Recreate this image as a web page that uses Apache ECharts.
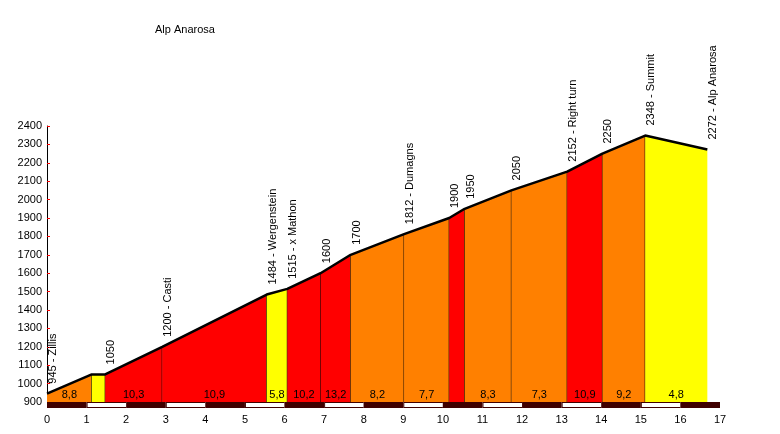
<!DOCTYPE html>
<html lang="en">
<head>
	<meta charset="UTF-8">
	<title>Alp Anarosa</title>
	<script src="https://cdn.jsdelivr.net/npm/echarts@6/dist/echarts.min.js"></script>
</head>
<body style="margin:0">
	<div id="app" style="width: 780px;height:434px"></div>

	<script>
		// profile points (km, altitude) and names
		var kmPoints = [0, 1.13, 1.47, 2.91, 5.55, 6.07, 6.91, 7.67, 9.02, 10.16, 10.55, 11.73, 13.14, 14.03, 15.11, 16.68];
		var altitudes = [945, 1050, 1050, 1200, 1484, 1515, 1600, 1700, 1812, 1900, 1950, 2050, 2152, 2250, 2348, 2272];
		// null = no label at this point, '' = altitude only
		var pointNames = ['Zillis', null, '', 'Casti', 'Wergenstein', 'x Mathon', '', '', 'Dumagns', '', '', '', 'Right turn', '', 'Summit', 'Alp Anarosa'];
		// gradient of each segment in %
		var grades = [8.8, 0, 10.3, 10.9, 5.8, 10.2, 13.2, 8.2, 7.7, 12.8, 8.3, 7.3, 10.9, 9.2, 4.8];
		var yTicks = [900, 2400, 100];
		var xTicks = [0, 17, 1];

		var font = 'Arial, "Liberation Sans", sans-serif';

		function gradeColor(g){
			if (g < 6) return '#ffff00';
			if (g < 10) return '#ff8000';
			return '#ff0000';
		}

		var segData = [];
		for (var i = 0; i < kmPoints.length - 1; i++) {
			segData.push([kmPoints[i], altitudes[i], kmPoints[i+1], altitudes[i+1], grades[i], i]);
		}
		var lineData = kmPoints.map(function(k, i){ return [k, altitudes[i]]; });
		var labelData = [];
		kmPoints.forEach(function(k, i){
			if (pointNames[i] === null) return;
			labelData.push({value: [k, altitudes[i]], name: altitudes[i] + (pointNames[i] ? ' - ' + pointNames[i] : '')});
		});
		var kmBand = [];
		for (var k = xTicks[0]; k < xTicks[1]; k++) kmBand.push(k);

		var myChart = echarts.init(document.getElementById('app'));
		var option = {
			animation: false,
			backgroundColor: '#fff',
			title: {
				text: 'Alp Anarosa',
				left: 150, top: 19,
				textStyle: {fontFamily: font, fontSize: 11, fontWeight: 'normal', color: '#000'}
			},
			grid: {left: 47, right: 60, top: 126, bottom: 32},
			xAxis: {
				type: 'value', min: xTicks[0], max: xTicks[1], interval: xTicks[2],
				axisLine: {show: false}, axisTick: {show: false}, splitLine: {show: false},
				axisLabel: {margin: 12, color: '#000', fontFamily: font, fontSize: 11}
			},
			yAxis: {
				type: 'value', min: yTicks[0], max: yTicks[1], interval: yTicks[2],
				axisLine: {show: true, lineStyle: {color: '#000', width: 1}},
				axisTick: {show: true, inside: true, length: 3, lineStyle: {color: '#ff0000'}},
				splitLine: {show: false},
				axisLabel: {margin: 5, color: '#000', fontFamily: font, fontSize: 11,
					formatter: function(v){ return String(v); }}
			},
			series: [
			{
				// coloured segments with grade labels
				type: 'custom',
				data: segData,
				z: 1,
				renderItem: function(params, api){
					var a = api.coord([api.value(0), api.value(1)]);
					var b = api.coord([api.value(2), api.value(3)]);
					var base = api.coord([0, yTicks[0]])[1];
					var g = api.value(4);
					var idx = api.value(5);
					var children = [{
						type: 'polygon',
						shape: {points: [[a[0], base], a, b, [b[0], base]]},
						style: {fill: gradeColor(g)}
					}];
					if (idx < segData.length - 1) {
						children.push({
							type: 'line',
							shape: {x1: b[0], y1: b[1], x2: b[0], y2: base},
							style: {stroke: '#000', lineWidth: 1}
						});
					}
					if (g > 0 && b[0] - a[0] > 18) {
						children.push({
							type: 'text',
							x: (a[0] + b[0]) / 2, y: base - 7,
							style: {text: g.toFixed(1).replace('.', ','), textAlign: 'center', textVerticalAlign: 'middle',
								font: '11px ' + font, fill: '#000'}
						});
					}
					return {type: 'group', children: children};
				}
			},
			{
				// profile line
				type: 'line',
				data: lineData,
				symbol: 'none',
				z: 3,
				lineStyle: {color: '#000', width: 2.5}
			},
			{
				// vertical point labels
				type: 'custom',
				data: labelData,
				z: 4,
				renderItem: function(params, api){
					var p = api.coord([api.value(0), api.value(1)]);
					return {
						type: 'text',
						x: p[0] + 6, y: p[1] - 10,
						rotation: Math.PI / 2,
						style: {text: labelData[params.dataIndex].name, textAlign: 'left', textVerticalAlign: 'middle',
							font: '11px ' + font, fill: '#000'}
					};
				}
			},
			{
				// km band below the profile
				type: 'custom',
				data: kmBand,
				z: 2,
				renderItem: function(params, api){
					var k = api.value(0);
					var a = api.coord([k, yTicks[0]]);
					var b = api.coord([k + 1, yTicks[0]]);
					var children = [{
						type: 'rect',
						shape: {x: a[0], y: a[1], width: b[0] - a[0], height: 6},
						style: {fill: '#400000'}
					}];
					if (k % 2 === 1) {
						children.push({
							type: 'rect',
							shape: {x: a[0] + 1, y: a[1] + 1, width: b[0] - a[0] - 1, height: 4},
							style: {fill: '#fff'}
						});
					}
					return {type: 'group', children: children};
				}
			}
			]
		};
		myChart.setOption(option);
	</script>
</body>
</html>
